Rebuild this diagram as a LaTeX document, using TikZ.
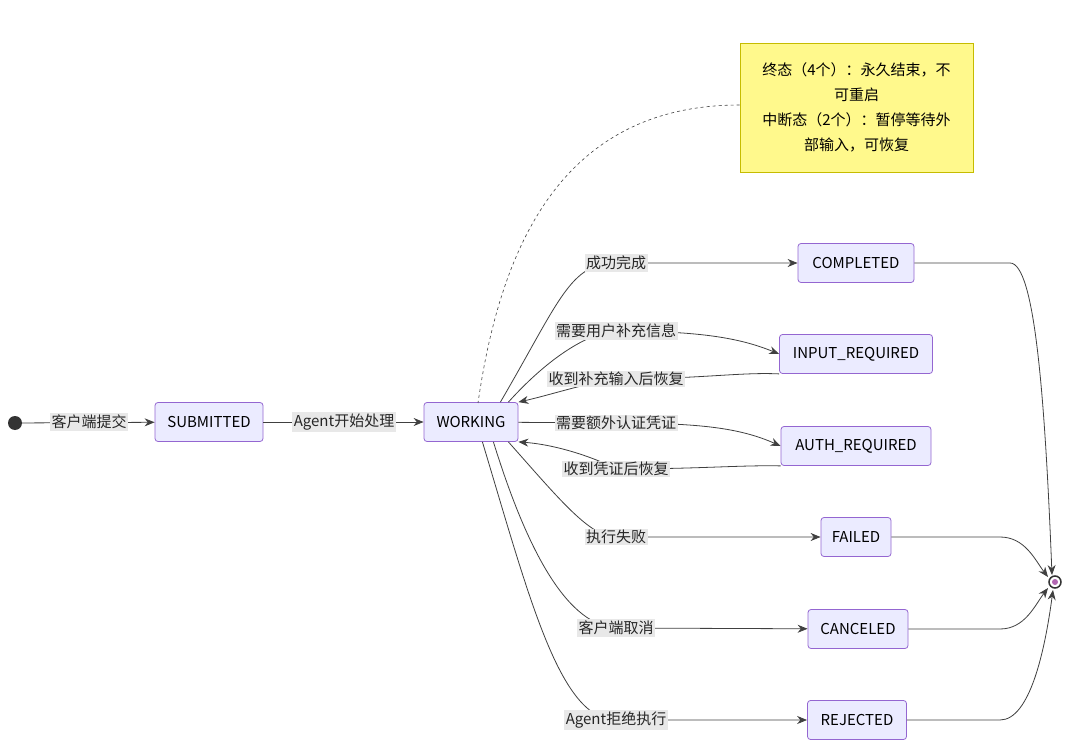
\documentclass[tikz,border=0pt]{standalone}
\usepackage{fontspec}
\setmainfont{Noto Sans CJK SC}
\usetikzlibrary{arrows.meta}
\begin{document}
\begin{tikzpicture}[x=1pt,y=-1pt,
 st/.style={draw=violet!60!blue!60!white,fill=blue!8,rounded corners=3pt,line width=0.8pt,minimum height=39pt,inner sep=0pt,font=\fontsize{15}{17}\selectfont},
 lb/.style={fill=gray!18,inner sep=1.5pt,font=\fontsize{15}{17}\selectfont,text=black!85},
 ed/.style={draw=black!75,line width=0.8pt},
 ar/.style={ed,-{Stealth[length=10pt,width=8pt]}}]
\useasboundingbox (0,0) rectangle (1080,754);
\node[circle,fill=black!80,minimum size=14pt,inner sep=0pt] (s) at (15,423) {};
\node[st,minimum width=108pt] (sub) at (209,422) {SUBMITTED};
\node[st,minimum width=94pt] (w) at (471,422) {WORKING};
\node[st,minimum width=116pt] (c) at (856,263) {COMPLETED};
\node[st,minimum width=153pt] (ir) at (856,354) {INPUT\_REQUIRED};
\node[st,minimum width=150pt] (ar) at (856,446) {AUTH\_REQUIRED};
\node[st,minimum width=70pt] (f) at (856,537) {FAILED};
\node[st,minimum width=100pt] (ca) at (858,629) {CANCELED};
\node[st,minimum width=99pt] (r) at (857,720) {REJECTED};
\node[circle,draw=black!80,line width=1.5pt,fill=white,minimum size=12pt,inner sep=0pt] (e) at (1055,582) {};
\node[circle,fill=violet!60,minimum size=6pt,inner sep=0pt] at (e) {};
\node[draw=yellow!50!olive,fill=yellow!45,line width=0.8pt,minimum width=233pt,minimum height=129pt,align=center,font=\fontsize{15}{25}\selectfont] (n) at (856.5,107.5) {终态（4个）：永久结束，不\\可重启\\中断态（2个）：暂停等待外\\部输入，可恢复};

\coordinate (l1) at (616,263); \coordinate (l2) at (616,331); \coordinate (l3) at (616,379);
\coordinate (l4) at (616,423); \coordinate (l5) at (616,469); \coordinate (l6) at (616,537);
\coordinate (l7) at (616,628); \coordinate (l8) at (616,720); \coordinate (l0) at (89,422); \coordinate (la) at (344,422);

\draw[ed,dashed,line width=0.6pt] (n.west|-0,105) .. controls (560,105) and (500,250) .. (478,403);
\draw[ar] (s) -- (sub);
\draw[ar] (sub) -- (w);
\draw[ar] (w.north east) ++(-18,0) .. controls (560,300) and (570,263) .. (l1) -- (c);
\draw[ar] (w.north east) ++(-10,0) .. controls (560,345) and (600,331) .. (l2) .. controls (700,331) and (740,338) .. (ir.west);
\draw[ar] (ir.south west) .. controls (740,372) and (700,379) .. (l3) .. controls (590,382) and (550,395) .. (w.north east);
\draw[ar] (w) -- (l4) .. controls (700,423) and (740,428) .. (ar.west);
\draw[ar] (ar.south west) .. controls (740,465) and (700,469) .. (l5) .. controls (600,460) and (560,445) .. (w.south east);
\draw[ar] (w.south east) ++(-10,0) .. controls (560,500) and (590,537) .. (l6) -- (f);
\draw[ar] (w.south east) ++(-25,0) .. controls (530,560) and (570,625) .. (l7) -- (ca);
\draw[ar] (w.south east) ++(-36,0) .. controls (530,600) and (560,720) .. (l8) -- (r);
\draw[ar] (c) -- (1010,263) .. controls (1035,263) and (1045,400) .. (1052,575);
\draw[ar] (f) -- (1000,537) .. controls (1025,537) and (1035,560) .. (1048,577);
\draw[ar] (ca) -- (1000,629) .. controls (1025,629) and (1035,605) .. (1048,588);
\draw[ar] (r) -- (1000,720) .. controls (1030,720) and (1045,650) .. (1053,590);

\node[lb] at (l0) {客户端提交};
\node[lb] at (la) {Agent开始处理};
\node[lb] at (l1) {成功完成};
\node[lb] at (l2) {需要用户补充信息};
\node[lb] at (l3) {收到补充输入后恢复};
\node[lb] at (l4) {需要额外认证凭证};
\node[lb] at (l5) {收到凭证后恢复};
\node[lb] at (l6) {执行失败};
\node[lb] at (l7) {客户端取消};
\node[lb] at (l8) {Agent拒绝执行};
\end{tikzpicture}
\end{document}
